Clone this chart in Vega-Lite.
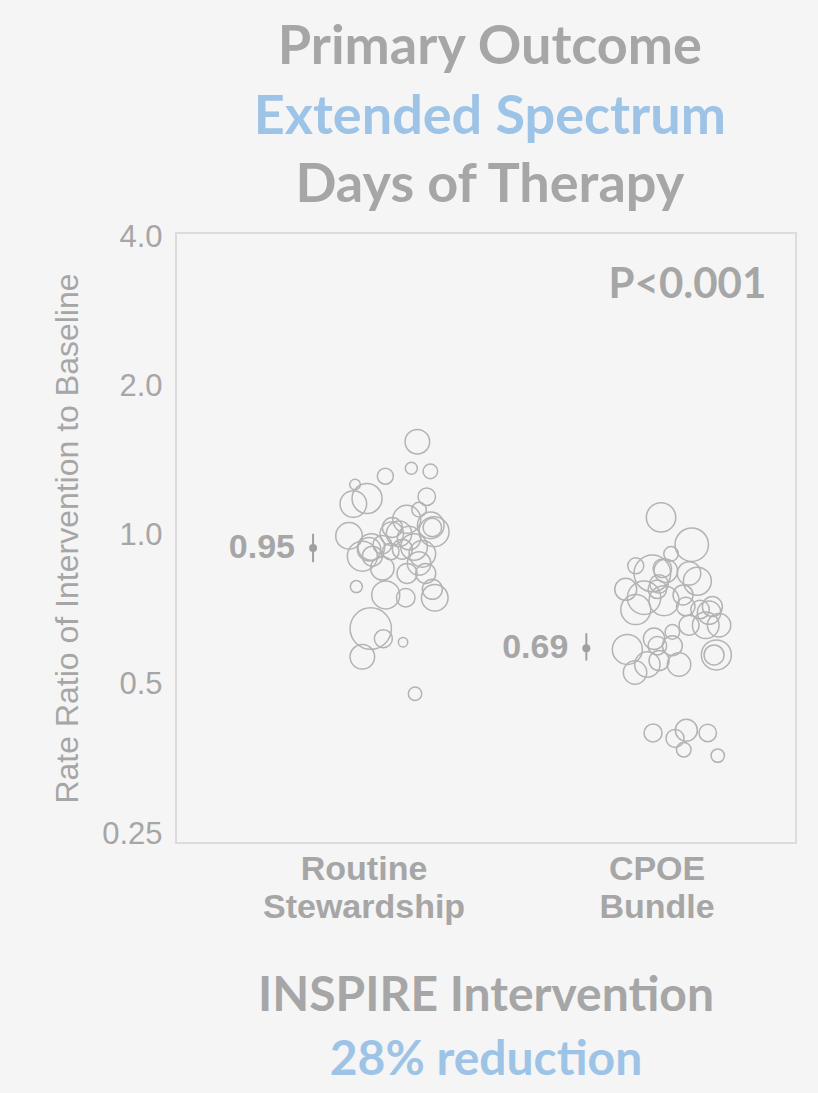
{
  "$schema": "https://vega.github.io/schema/vega-lite/v6.json",
  "background": "#f5f5f5",
  "padding": {"left": 50, "top": 20, "right": 21, "bottom": 14},
  "config": {
    "font": "Liberation Sans",
    "view": {"stroke": "#dcdcdc", "strokeWidth": 2},
    "axis": {"domain": false, "ticks": false, "grid": false}
  },
  "datasets": {
    "sites": [
      {"arm": "Routine Stewardship", "jit": 53.3, "rr": 1.55, "w": 151},
      {"arm": "Routine Stewardship", "jit": 47.3, "rr": 1.37, "w": 36},
      {"arm": "Routine Stewardship", "jit": 66.3, "rr": 1.35, "w": 53},
      {"arm": "Routine Stewardship", "jit": 21.3, "rr": 1.32, "w": 64},
      {"arm": "Routine Stewardship", "jit": -9, "rr": 1.27, "w": 28},
      {"arm": "Routine Stewardship", "jit": 3, "rr": 1.19, "w": 225},
      {"arm": "Routine Stewardship", "jit": -10.7, "rr": 1.16, "w": 177},
      {"arm": "Routine Stewardship", "jit": 62.7, "rr": 1.2, "w": 76},
      {"arm": "Routine Stewardship", "jit": 55, "rr": 1.13, "w": 53},
      {"arm": "Routine Stewardship", "jit": 42.7, "rr": 1.08, "w": 196},
      {"arm": "Routine Stewardship", "jit": 66.7, "rr": 1.05, "w": 177},
      {"arm": "Routine Stewardship", "jit": 70, "rr": 1.02, "w": 225},
      {"arm": "Routine Stewardship", "jit": 68.3, "rr": 1.04, "w": 86},
      {"arm": "Routine Stewardship", "jit": -15, "rr": 1.0, "w": 177},
      {"arm": "Routine Stewardship", "jit": 27.7, "rr": 1.01, "w": 137},
      {"arm": "Routine Stewardship", "jit": 7.3, "rr": 0.95, "w": 177},
      {"arm": "Routine Stewardship", "jit": -1.7, "rr": 0.91, "w": 225},
      {"arm": "Routine Stewardship", "jit": 18.3, "rr": 0.96, "w": 86},
      {"arm": "Routine Stewardship", "jit": 45, "rr": 0.99, "w": 137},
      {"arm": "Routine Stewardship", "jit": 58.3, "rr": 0.92, "w": 177},
      {"arm": "Routine Stewardship", "jit": 26.7, "rr": 0.93, "w": 69},
      {"arm": "Routine Stewardship", "jit": 18.3, "rr": 0.86, "w": 137},
      {"arm": "Routine Stewardship", "jit": 43, "rr": 0.84, "w": 100},
      {"arm": "Routine Stewardship", "jit": 61.7, "rr": 0.84, "w": 100},
      {"arm": "Routine Stewardship", "jit": -7.7, "rr": 0.79, "w": 36},
      {"arm": "Routine Stewardship", "jit": 21.7, "rr": 0.76, "w": 196},
      {"arm": "Routine Stewardship", "jit": 41.7, "rr": 0.75, "w": 86},
      {"arm": "Routine Stewardship", "jit": 68.3, "rr": 0.78, "w": 100},
      {"arm": "Routine Stewardship", "jit": 70.7, "rr": 0.75, "w": 177},
      {"arm": "Routine Stewardship", "jit": 6.7, "rr": 0.65, "w": 428},
      {"arm": "Routine Stewardship", "jit": 19.3, "rr": 0.62, "w": 81},
      {"arm": "Routine Stewardship", "jit": 39, "rr": 0.61, "w": 22},
      {"arm": "Routine Stewardship", "jit": -1.7, "rr": 0.57, "w": 151},
      {"arm": "Routine Stewardship", "jit": 51, "rr": 0.48, "w": 45},
      {"arm": "Routine Stewardship", "jit": 28.3, "rr": 1.04, "w": 100},
      {"arm": "Routine Stewardship", "jit": 38.3, "rr": 0.94, "w": 100},
      {"arm": "Routine Stewardship", "jit": 55, "rr": 0.88, "w": 137},
      {"arm": "Routine Stewardship", "jit": 8.3, "rr": 0.91, "w": 100},
      {"arm": "Routine Stewardship", "jit": 35, "rr": 1.01, "w": 161},
      {"arm": "Routine Stewardship", "jit": 5, "rr": 0.94, "w": 137},
      {"arm": "Routine Stewardship", "jit": 50, "rr": 0.95, "w": 177},
      {"arm": "CPOE Bundle", "jit": 4, "rr": 1.09, "w": 216},
      {"arm": "CPOE Bundle", "jit": 34.7, "rr": 0.96, "w": 279},
      {"arm": "CPOE Bundle", "jit": 14, "rr": 0.92, "w": 53},
      {"arm": "CPOE Bundle", "jit": -21.3, "rr": 0.87, "w": 64},
      {"arm": "CPOE Bundle", "jit": -4.7, "rr": 0.84, "w": 335},
      {"arm": "CPOE Bundle", "jit": 5.3, "rr": 0.86, "w": 86},
      {"arm": "CPOE Bundle", "jit": 8.7, "rr": 0.85, "w": 137},
      {"arm": "CPOE Bundle", "jit": 32, "rr": 0.84, "w": 137},
      {"arm": "CPOE Bundle", "jit": 40.3, "rr": 0.81, "w": 196},
      {"arm": "CPOE Bundle", "jit": -31.3, "rr": 0.78, "w": 121},
      {"arm": "CPOE Bundle", "jit": -13, "rr": 0.75, "w": 279},
      {"arm": "CPOE Bundle", "jit": 0.3, "rr": 0.78, "w": 86},
      {"arm": "CPOE Bundle", "jit": 7, "rr": 0.74, "w": 225},
      {"arm": "CPOE Bundle", "jit": 26, "rr": 0.76, "w": 100},
      {"arm": "CPOE Bundle", "jit": -21.3, "rr": 0.71, "w": 225},
      {"arm": "CPOE Bundle", "jit": 28.7, "rr": 0.72, "w": 86},
      {"arm": "CPOE Bundle", "jit": 55.3, "rr": 0.72, "w": 100},
      {"arm": "CPOE Bundle", "jit": 52, "rr": 0.7, "w": 137},
      {"arm": "CPOE Bundle", "jit": 62, "rr": 0.66, "w": 137},
      {"arm": "CPOE Bundle", "jit": 48.7, "rr": 0.66, "w": 177},
      {"arm": "CPOE Bundle", "jit": 32, "rr": 0.66, "w": 100},
      {"arm": "CPOE Bundle", "jit": 15.3, "rr": 0.64, "w": 53},
      {"arm": "CPOE Bundle", "jit": -3, "rr": 0.62, "w": 114},
      {"arm": "CPOE Bundle", "jit": -29.7, "rr": 0.59, "w": 225},
      {"arm": "CPOE Bundle", "jit": 0.3, "rr": 0.6, "w": 86},
      {"arm": "CPOE Bundle", "jit": 15.3, "rr": 0.6, "w": 100},
      {"arm": "CPOE Bundle", "jit": 59.3, "rr": 0.575, "w": 225},
      {"arm": "CPOE Bundle", "jit": 57, "rr": 0.575, "w": 100},
      {"arm": "CPOE Bundle", "jit": 22, "rr": 0.55, "w": 137},
      {"arm": "CPOE Bundle", "jit": 2, "rr": 0.56, "w": 100},
      {"arm": "CPOE Bundle", "jit": -9.7, "rr": 0.55, "w": 161},
      {"arm": "CPOE Bundle", "jit": -22, "rr": 0.53, "w": 137},
      {"arm": "CPOE Bundle", "jit": -4, "rr": 0.4, "w": 81},
      {"arm": "CPOE Bundle", "jit": 18, "rr": 0.39, "w": 81},
      {"arm": "CPOE Bundle", "jit": 29.3, "rr": 0.405, "w": 121},
      {"arm": "CPOE Bundle", "jit": 50.7, "rr": 0.4, "w": 76},
      {"arm": "CPOE Bundle", "jit": 26.7, "rr": 0.37, "w": 53},
      {"arm": "CPOE Bundle", "jit": 60.7, "rr": 0.36, "w": 45},
      {"arm": "CPOE Bundle", "jit": 43, "rr": 0.71, "w": 86},
      {"arm": "CPOE Bundle", "jit": 2, "rr": 0.8, "w": 86}
    ],
    "est": [
      {"arm": "Routine Stewardship", "jit": -51, "rr": 0.945, "lo": 0.885, "hi": 1.01, "label": "0.95"},
      {"arm": "CPOE Bundle", "jit": -70.7, "rr": 0.593, "lo": 0.56, "hi": 0.636, "label": "0.69"}
    ],
    "pval": [
      {"arm": "CPOE Bundle", "jit": 109.3, "rr": 3.03, "label": "P<0.001"}
    ]
  },
  "title": {
    "text": "Primary Outcome",
    "subtitle": "Extended Spectrum",
    "anchor": "middle",
    "dx": 66,
    "font": "Lato",
    "fontSize": 54,
    "fontWeight": "bold",
    "color": "#a6a6a6",
    "subtitleFont": "Lato",
    "subtitleFontSize": 54,
    "subtitleFontWeight": "bold",
    "subtitleColor": "#9dc3e6",
    "subtitlePadding": 16,
    "offset": 14
  },
  "vconcat": [
    {
      "title": {
        "text": "Days of Therapy",
        "anchor": "middle",
        "dx": 66,
        "font": "Lato",
        "fontSize": 54,
        "fontWeight": "bold",
        "color": "#a6a6a6",
        "offset": 8
      },
      "vconcat": [
        {
          "width": 620,
          "height": 610,
          "title": {
            "text": "INSPIRE Intervention",
            "subtitle": "28% reduction",
            "orient": "bottom",
            "anchor": "middle",
            "font": "Lato",
            "fontSize": 48,
            "fontWeight": "bold",
            "color": "#a6a6a6",
            "subtitleFont": "Lato",
            "subtitleFontSize": 48,
            "subtitleFontWeight": "bold",
            "subtitleColor": "#9dc3e6",
            "subtitlePadding": 16,
            "offset": 49
          },
          "encoding": {
            "x": {
              "field": "arm",
              "type": "nominal",
              "sort": ["Routine Stewardship", "CPOE Bundle"],
              "scale": {"domain": ["Routine Stewardship", "CPOE Bundle"], "paddingInner": 0.5, "paddingOuter": 0.308, "align": 0.636},
              "axis": {
                "title": null,
                "labelAngle": 0,
                "labelLimit": 0,
                "labelExpr": "split(datum.label, ' ')",
                "labelFont": "Liberation Sans",
                "labelFontSize": 34,
                "labelFontWeight": "bold",
                "labelColor": "#a6a6a6",
                "labelLineHeight": 38,
                "labelPadding": 9
              }
            },
            "xOffset": {
              "field": "jit",
              "type": "quantitative",
              "scale": {"domain": [-73.25, 73.25]}
            }
          },
          "layer": [
            {
              "data": {"name": "sites"},
              "mark": {"type": "point", "shape": "circle", "filled": false, "stroke": "#b3b3b3", "strokeWidth": 1.5, "opacity": 1},
              "encoding": {
                "y": {
                  "field": "rr",
                  "type": "quantitative",
                  "scale": {"type": "log", "domain": [0.2398, 4.09], "nice": false},
                  "axis": {
                    "values": [0.25, 0.5, 1, 2, 4],
                    "labelExpr": "datum.value == 0.25 ? '0.25' : format(datum.value, '.1f')",
                    "labelFont": "Liberation Sans",
                    "labelFontSize": 31,
                    "labelColor": "#a6a6a6",
                    "labelPadding": 14,
                    "title": "Rate Ratio of Intervention to Baseline",
                    "titleFont": "Liberation Sans",
                    "titleFontSize": 32,
                    "titleFontWeight": "normal",
                    "titleColor": "#a6a6a6",
                    "titlePadding": 17
                  }
                },
                "size": {
                  "field": "w",
                  "type": "quantitative",
                  "scale": {"type": "linear", "domain": [0, 400], "range": [0, 1600], "zero": true},
                  "legend": null
                }
              }
            },
            {
              "data": {"name": "est"},
              "mark": {"type": "rule", "color": "#a0a0a0", "strokeWidth": 2},
              "encoding": {
                "y": {"field": "lo", "type": "quantitative"},
                "y2": {"field": "hi"}
              }
            },
            {
              "data": {"name": "est"},
              "mark": {"type": "point", "shape": "circle", "filled": true, "color": "#a0a0a0", "opacity": 1, "size": 64},
              "encoding": {
                "y": {"field": "rr", "type": "quantitative"}
              }
            },
            {
              "data": {"name": "est"},
              "mark": {"type": "text", "align": "right", "baseline": "middle", "dx": -18, "font": "Liberation Sans", "fontSize": 34, "fontWeight": "bold", "color": "#a6a6a6"},
              "encoding": {
                "y": {"field": "rr", "type": "quantitative"},
                "text": {"field": "label"}
              }
            },
            {
              "data": {"name": "pval"},
              "mark": {"type": "text", "align": "right", "baseline": "alphabetic", "font": "Lato", "fontSize": 42, "fontWeight": "bold", "color": "#a6a6a6"},
              "encoding": {
                "y": {"field": "rr", "type": "quantitative"},
                "text": {"field": "label"}
              }
            }
          ]
        }
      ]
    }
  ]
}
